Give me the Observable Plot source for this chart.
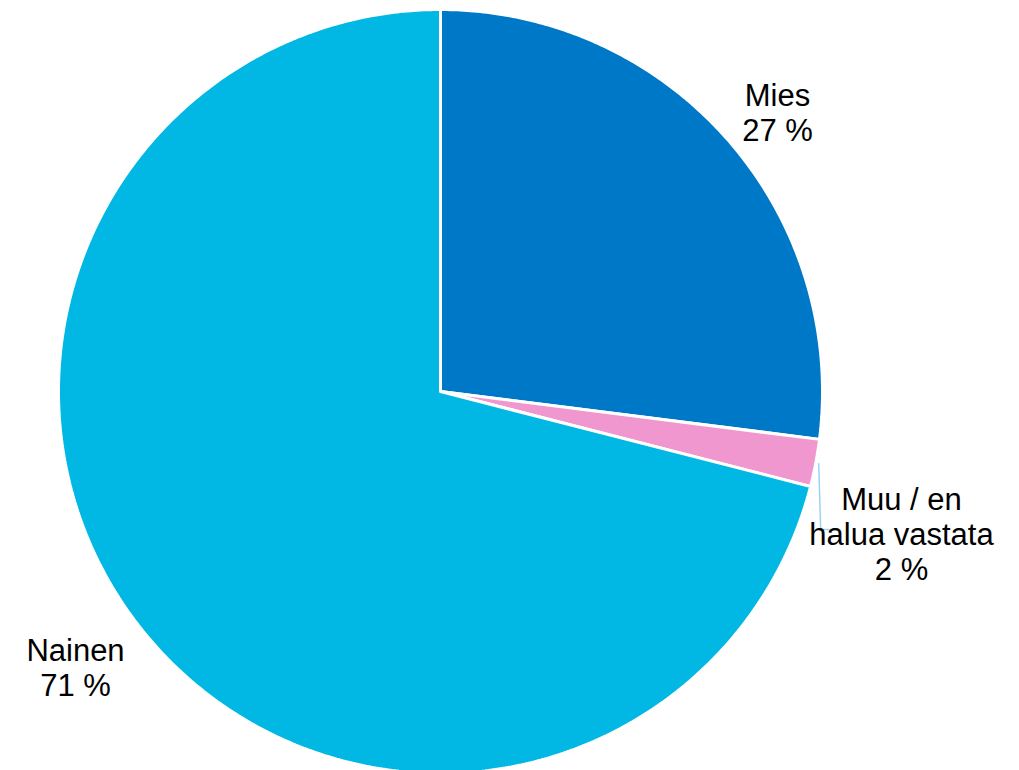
<!DOCTYPE html>
<html>
<head>
<meta charset="utf-8">
<script src="https://cdn.jsdelivr.net/npm/d3@7"></script>
<script src="https://cdn.jsdelivr.net/npm/@observablehq/plot@0.6"></script>
<style>
  html, body { margin: 0; padding: 0; background: #fff; }
  #chart svg { display: block; }
</style>
</head>
<body>
<div id="chart"></div>
<script>
// ---- data ----
const categories = ["Mies", "Muu / en halua vastata", "Nainen"];
const labels = ["Mies", "Muu / en\nhalua vastata", "Nainen"];
const values = [27, 2, 71];
const colors = ["#0078C8", "#F097CF", "#00B8E3"];

// ---- layout ----
const W = 1019, H = 770;
const cx = 440, cy = 391, R = 382;
const fontSize = 31;
// label placement (offset from pie centre, in px), middle of text block
const labelLayout = {
  "Mies": {dx: 337, dy: -279},
  "Muu / en halua vastata": {dx: 461, dy: 142},
  "Nainen": {dx: -365, dy: 276}
};

const pie = d3.pie().sort(null).value(d => d.value);
const table = categories.map((c, i) => ({name: c, label: labels[i], value: values[i], color: colors[i]}));
const arcs = pie(table);

// polygon points for each slice (angles clockwise from 12 o'clock, y downward)
const pts = [];
for (const a of arcs) {
  const name = a.data.name;
  pts.push({name, x: 0, y: 0});
  const n = Math.max(2, Math.ceil((a.endAngle - a.startAngle) / (Math.PI / 360)));
  for (let k = 0; k <= n; k++) {
    const t = a.startAngle + (a.endAngle - a.startAngle) * k / n;
    pts.push({name, x: R * Math.sin(t), y: -R * Math.cos(t)});
  }
  pts.push({name, x: 0, y: 0});
}

const labelData = arcs.map(a => ({
  text: a.data.label + "\n" + a.data.value + " %",
  x: labelLayout[a.data.name].dx,
  y: labelLayout[a.data.name].dy
}));

// leader line for the small slice
const small = arcs[1];
const mid = (small.startAngle + small.endAngle) / 2;
const lx0 = (R + 3) * Math.sin(mid), ly0 = -(R + 3) * Math.cos(mid);
const ly1 = labelLayout[small.data.name].dy - 4;
const leader = [
  {x: lx0, y: ly0},
  {x: lx0 + 2, y: ly1},
  {x: lx0 + 10, y: ly1}
];

const chart = Plot.plot({
  width: W,
  height: H,
  margin: 0,
  x: {domain: [-cx, W - cx], range: [0, W], axis: null},
  y: {domain: [-cy, H - cy], range: [0, H], axis: null},
  color: {domain: categories, range: colors},
  style: {fontFamily: "'Liberation Sans', Arial, sans-serif", background: "#fff"},
  marks: [
    Plot.line(pts, {x: "x", y: "y", z: "name", fill: "name", stroke: "#fff", strokeWidth: 3, strokeLinejoin: "miter", curve: "linear"}),
    Plot.line(leader, {x: "x", y: "y", stroke: "#9CD3F2", strokeWidth: 1.5}),
    Plot.text(labelData, {x: "x", y: "y", text: "text", fontSize, lineHeight: 1.13, lineAnchor: "middle", textAnchor: "middle", fill: "#000"})
  ]
});
document.getElementById("chart").appendChild(chart);
</script>
</body>
</html>
